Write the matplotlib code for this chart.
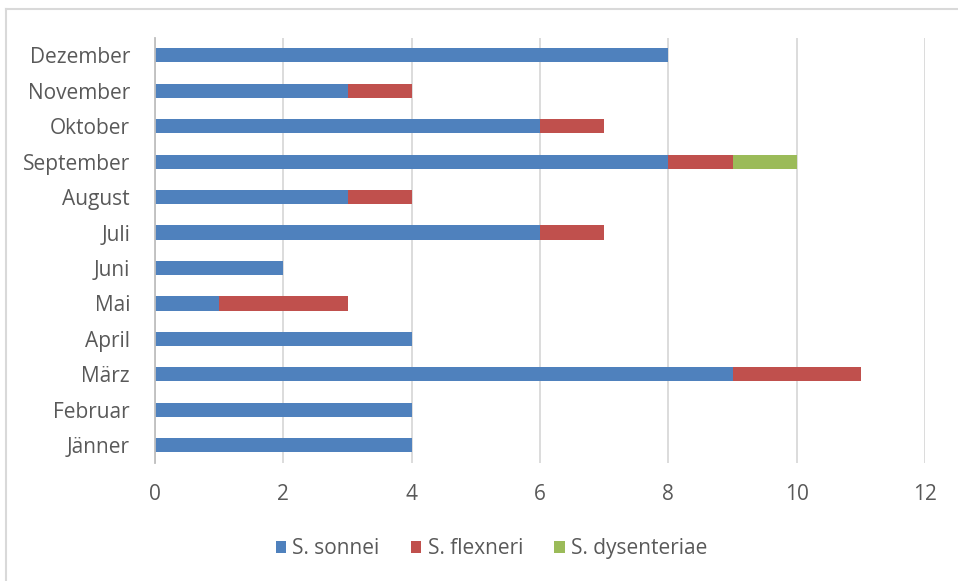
import matplotlib
matplotlib.use("Agg")
import matplotlib.pyplot as plt
from matplotlib.lines import Line2D
import numpy as np

months = ["Jänner", "Februar", "März", "April", "Mai", "Juni",
          "Juli", "August", "September", "Oktober", "November", "Dezember"]
sonnei = [4, 4, 9, 4, 1, 2, 6, 3, 8, 6, 3, 8]
flexneri = [0, 0, 2, 0, 2, 0, 1, 1, 1, 1, 1, 0]
dysenteriae = [0, 0, 0, 0, 0, 0, 0, 0, 1, 0, 0, 0]
series_names = ["S. sonnei", "S. flexneri", "S. dysenteriae"]
colors = ["#4F81BD", "#C0504D", "#9BBB59"]

plt.rcParams['font.family'] = ['Open Sans', 'DejaVu Sans']

fig = plt.figure(figsize=(9.58, 5.81), dpi=100)
ax = fig.add_axes([0.1618, 0.203, 0.8038, 0.7324])

y = np.arange(len(months))
left = np.zeros(len(months))
for vals, name, c in zip([sonnei, flexneri, dysenteriae], series_names, colors):
    vals = np.array(vals)
    ax.barh(y, vals, left=left, height=0.4, color=c, label=name, zorder=3)
    left += vals

ax.set_xlim(0, 12)
ax.set_ylim(-0.5, len(months) - 0.5)
ax.set_xticks(range(0, 13, 2))
ax.set_yticks(y)
ax.set_yticklabels(months)
ax.grid(axis='x', color='#D9D9D9', linewidth=1.3, zorder=0)
for s in ['top', 'right', 'bottom']:
    ax.spines[s].set_visible(False)
ax.spines['left'].set_color('#BFBFBF')
ax.spines['left'].set_linewidth(1.3)
ax.spines['left'].set_zorder(4)
ax.tick_params(axis='both', length=0, labelsize=15, colors='#595959')
ax.tick_params(axis='x', pad=15)
ax.tick_params(axis='y', pad=18)

ax.legend(loc='lower center', bbox_to_anchor=(0.437, -0.27), ncol=3,
          frameon=False, fontsize=15, labelcolor='#595959',
          handlelength=0.5, handleheight=0.5, handletextpad=0.3,
          columnspacing=1.5)

# light border round the chart area
fig.add_artist(Line2D([0.006, 0.006], [0, 0.985], transform=fig.transFigure,
                      color='#D9D9D9', linewidth=1.5))
fig.add_artist(Line2D([0.006, 1.0], [0.985, 0.985], transform=fig.transFigure,
                      color='#D9D9D9', linewidth=1.5))

fig.savefig("out.png", dpi=100)
